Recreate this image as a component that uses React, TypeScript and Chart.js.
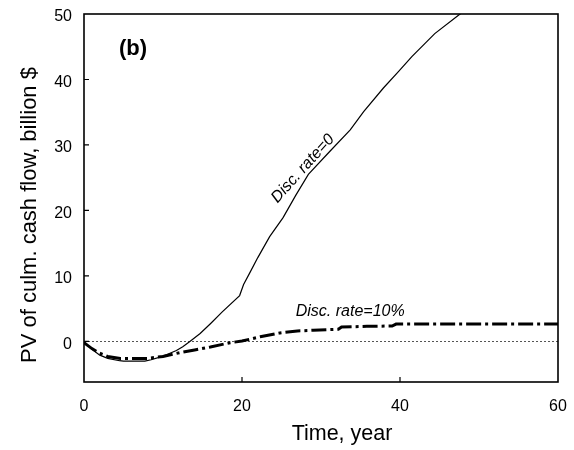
import React, { useEffect, useRef } from 'react';
import { Chart, registerables } from 'chart.js';

Chart.register(...registerables);

// ---- data ----
const years0 = [0, 1, 2, 3, 4.5, 5, 7.7, 8.5, 9.6, 10.5, 11.7, 12.5, 13.4, 14.7, 16, 17.5, 19.7, 20.2, 21, 22, 23.5, 25.2, 26.8, 28.4, 31.1, 33.7, 35.4, 37.9, 39.8, 41.5, 44.4, 47.4, 48.5];
const pv0 = [-0.1, -1.2, -2.1, -2.6, -2.95, -3.0, -3.0, -2.8, -2.4, -2.0, -1.4, -0.8, 0, 1.2, 2.7, 4.5, 7.0, 8.7, 10.5, 12.8, 16.0, 18.9, 22.3, 25.5, 29.0, 32.3, 35.1, 38.7, 41.2, 43.5, 47.0, 49.8, 50.8];

const years10 = [0, 1, 2, 3, 4.6, 8, 10, 12.2, 14, 16, 18.5, 20, 22.3, 24.8, 27, 29, 32.2, 32.6, 35.8, 39, 39.5, 60];
const pv10 = [-0.2, -1.1, -1.8, -2.3, -2.6, -2.6, -2.3, -1.7, -1.3, -0.85, -0.2, 0.05, 0.7, 1.3, 1.6, 1.7, 1.85, 2.2, 2.3, 2.35, 2.65, 2.65];

const xTicks = [0, 20, 40, 60];
const yTicks = [0, 10, 20, 30, 40, 50];
const seriesLabels = ['Disc. rate=0', 'Disc. rate=10%'];
const panelLabel = '(b)';
const xTitle = 'Time, year';
const yTitle = 'PV of culm. cash flow, billion $';

const FONT = '"Liberation Sans", Arial, Helvetica, sans-serif';

const decor = {
  id: 'decor',
  beforeDatasetsDraw(chart: any) {
    const { ctx, chartArea: a, scales } = chart;
    const y0 = Math.round(scales.y.getPixelForValue(0)) + 0.5;
    ctx.save();
    ctx.strokeStyle = '#555';
    ctx.lineWidth = 1;
    ctx.setLineDash([2, 2]);
    ctx.beginPath();
    ctx.moveTo(a.left, y0);
    ctx.lineTo(a.right, y0);
    ctx.stroke();
    ctx.restore();
  },
  afterDraw(chart: any) {
    const { ctx, chartArea: a, scales } = chart;
    const xs = scales.x;
    const ys = scales.y;
    ctx.save();
    // frame
    ctx.strokeStyle = '#000';
    ctx.lineWidth = 1.6;
    ctx.strokeRect(a.left, a.top, a.right - a.left, a.bottom - a.top);
    // inner tick marks
    ctx.lineWidth = 1.2;
    ctx.beginPath();
    xTicks.forEach((v) => {
      if (v <= xs.min || v >= xs.max) return;
      const px = xs.getPixelForValue(v);
      ctx.moveTo(px, a.bottom);
      ctx.lineTo(px, a.bottom - 5);
    });
    yTicks.forEach((v) => {
      if (v <= ys.min || v >= ys.max) return;
      const py = ys.getPixelForValue(v);
      ctx.moveTo(a.left, py);
      ctx.lineTo(a.left + 5, py);
    });
    ctx.stroke();

    ctx.fillStyle = '#000';
    // panel label
    ctx.font = `bold 22px ${FONT}`;
    ctx.textAlign = 'center';
    ctx.textBaseline = 'alphabetic';
    ctx.fillText(panelLabel, xs.getPixelForValue(6.2), ys.getPixelForValue(43.8));

    // series annotations
    ctx.font = `italic 16px ${FONT}`;
    ctx.save();
    ctx.translate(xs.getPixelForValue(27.7), ys.getPixelForValue(26.4));
    ctx.rotate(-48 * Math.PI / 180);
    ctx.textAlign = 'center';
    ctx.textBaseline = 'middle';
    ctx.fillText(seriesLabels[0], 0, 0);
    ctx.restore();

    ctx.textAlign = 'left';
    ctx.textBaseline = 'alphabetic';
    ctx.fillText(seriesLabels[1], xs.getPixelForValue(26.8), ys.getPixelForValue(3.9));

    // axis titles
    ctx.font = `21.5px ${FONT}`;
    ctx.textAlign = 'center';
    ctx.textBaseline = 'alphabetic';
    ctx.fillText(xTitle, 342, 440);

    ctx.font = `22px ${FONT}`;
    ctx.save();
    ctx.translate(36, 215);
    ctx.rotate(-Math.PI / 2);
    ctx.fillText(yTitle, 0, 0);
    ctx.restore();

    ctx.restore();
  },
};

export default function App() {
  const ref = useRef<HTMLCanvasElement | null>(null);

  useEffect(() => {
    if (!ref.current) return;
    const chart = new Chart(ref.current, {
      type: 'line',
      data: {
        datasets: [
          {
            label: seriesLabels[0],
            data: years0.map((x, i) => ({ x, y: pv0[i] })),
            borderColor: '#000',
            borderWidth: 1.2,
            pointRadius: 0,
            tension: 0,
            fill: false,
            clip: 0,
          },
          {
            label: seriesLabels[1],
            data: years10.map((x, i) => ({ x, y: pv10[i] })),
            borderColor: '#000',
            borderWidth: 3,
            borderDash: [15, 4, 3, 4],
            borderCapStyle: 'butt',
            pointRadius: 0,
            tension: 0,
            fill: false,
            clip: 0,
          },
        ],
      },
      options: {
        animation: false,
        responsive: false,
        devicePixelRatio: 1,
        layout: { padding: { top: 14, right: 16, bottom: 0, left: 0 } },
        plugins: {
          legend: { display: false },
          tooltip: { enabled: false },
          title: { display: false },
        },
        scales: {
          x: {
            type: 'linear',
            min: 0,
            max: 60,
            afterBuildTicks: (s: any) => {
              s.ticks = xTicks.map((v) => ({ value: v }));
            },
            afterFit: (s: any) => {
              s.height = 68;
              s.paddingLeft = 0;
              s.paddingRight = 0;
            },
            grid: { display: false, drawTicks: false },
            border: { display: false },
            ticks: {
              autoSkip: false,
              maxRotation: 0,
              padding: 15,
              color: '#000',
              font: { size: 16, family: FONT },
            },
          },
          y: {
            type: 'linear',
            min: -6.2,
            max: 50,
            afterBuildTicks: (s: any) => {
              s.ticks = yTicks.map((v) => ({ value: v }));
            },
            afterFit: (s: any) => {
              s.width = 84;
              s.paddingTop = 0;
              s.paddingBottom = 0;
            },
            grid: { display: false, drawTicks: false },
            border: { display: false },
            ticks: {
              autoSkip: false,
              padding: 12,
              labelOffset: 3,
              color: '#000',
              font: { size: 16, family: FONT },
            },
          },
        },
      },
      plugins: [decor],
    } as any);
    return () => chart.destroy();
  }, []);

  return (
    <div style={{ position: 'absolute', left: 0, top: 0, width: 574, height: 450, background: '#fff' }}>
      <canvas ref={ref} width={574} height={450} style={{ display: 'block' }} />
    </div>
  );
}
